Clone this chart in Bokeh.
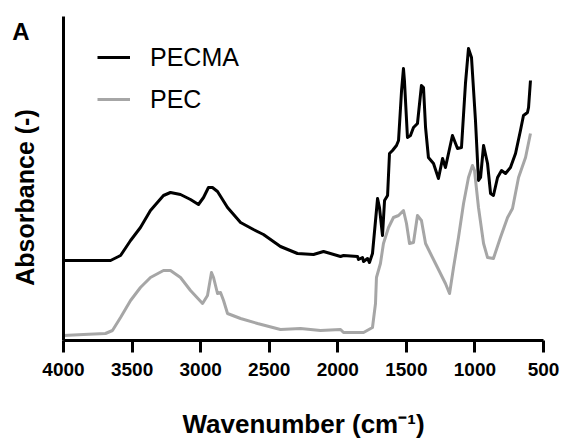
import math
from bokeh.plotting import figure
from bokeh.models import Range1d, FixedTicker, Legend, LegendItem, Label
from bokeh.embed import file_html
from bokeh.resources import INLINE

# ---- data ----
pecma_wn = [4000, 3657, 3584, 3511, 3439, 3366, 3271, 3220, 3147, 3074, 3016, 2979, 2943, 2914,
            2877, 2804, 2709, 2615, 2542, 2418, 2294, 2177, 2104, 1980, 1958, 1856, 1849, 1820,
            1812, 1783, 1769, 1747, 1710, 1696, 1674, 1659, 1637, 1623, 1601, 1572, 1557, 1535,
            1521, 1514, 1492, 1470, 1448, 1419, 1390, 1375, 1360, 1339, 1302, 1266, 1236, 1215,
            1164, 1127, 1098, 1069, 1047, 1025, 996, 974, 959, 937, 908, 886, 865, 835, 806,
            777, 741, 704, 668, 646, 617, 609, 595]
pecma_abs = [0.80, 0.80, 0.85, 1.00, 1.13, 1.30, 1.45, 1.48, 1.46, 1.41, 1.36, 1.43, 1.53, 1.53,
             1.49, 1.33, 1.18, 1.11, 1.06, 0.94, 0.87, 0.86, 0.89, 0.84, 0.85, 0.84, 0.81, 0.83,
             0.79, 0.82, 0.78, 0.87, 1.42, 1.33, 1.05, 1.40, 1.45, 1.87, 1.90, 1.95, 2.00, 2.50,
             2.72, 2.60, 2.03, 2.05, 2.13, 2.17, 2.55, 2.53, 2.13, 1.83, 1.77, 1.62, 1.82, 1.73,
             2.05, 1.92, 1.93, 2.57, 2.92, 2.83, 2.20, 1.60, 1.63, 1.95, 1.77, 1.47, 1.45, 1.63,
             1.70, 1.67, 1.73, 1.87, 2.10, 2.25, 2.28, 2.33, 2.60]

pec_wn = [4000, 3854, 3694, 3643, 3584, 3511, 3439, 3366, 3271, 3220, 3147, 3074, 2986, 2950,
          2921, 2906, 2877, 2855, 2833, 2804, 2709, 2585, 2418, 2272, 2126, 1980, 1958, 1812,
          1747, 1725, 1718, 1689, 1667, 1630, 1594, 1557, 1521, 1499, 1477, 1448, 1419, 1390,
          1360, 1324, 1273, 1215, 1185, 1156, 1120, 1083, 1047, 1018, 1003, 974, 937, 908, 865,
          814, 762, 726, 682, 631, 595]
pec_abs = [0.05, 0.06, 0.07, 0.10, 0.23, 0.40, 0.53, 0.63, 0.70, 0.70, 0.63, 0.50, 0.37, 0.45,
           0.68, 0.63, 0.47, 0.48, 0.40, 0.27, 0.22, 0.17, 0.11, 0.12, 0.10, 0.11, 0.08, 0.08,
           0.13, 0.37, 0.63, 0.77, 0.97, 1.13, 1.23, 1.25, 1.30, 1.17, 0.97, 0.98, 1.25, 1.20,
           0.97, 0.87, 0.73, 0.57, 0.47, 0.73, 1.03, 1.37, 1.63, 1.75, 1.70, 1.33, 0.97, 0.83,
           0.82, 1.03, 1.23, 1.32, 1.63, 1.83, 2.07]

x_ticks = [4000, 3500, 3000, 2500, 2000, 1500, 1000, 500]
series_names = ["PECMA", "PEC"]
series_colors = ["#000000", "#a6a6a6"]
x_title = "Wavenumber (cm\u207b\u00b9)"
y_title = "Absorbance (-)"
panel_letter = "A"

FONT = "Liberation Sans"

p = figure(width=561, height=443, output_backend="svg", toolbar_location=None,
           x_range=Range1d(4000, 500), y_range=Range1d(0, 3.24),
           min_border_left=63, min_border_right=18, min_border_top=16, min_border_bottom=103)
p.outline_line_color = None
p.grid.visible = False
p.background_fill_color = "white"
p.border_fill_color = "white"

r1 = p.line(pecma_wn, pecma_abs, line_color=series_colors[0], line_width=3, line_join="round")
r2 = p.line(pec_wn, pec_abs, line_color=series_colors[1], line_width=3, line_join="round")

# x axis
xa = p.xaxis[0]
xa.ticker = FixedTicker(ticks=x_ticks)
xa.axis_line_width = 3
xa.major_tick_line_width = 3
xa.major_tick_out = 12
xa.major_tick_in = 0
xa.minor_tick_line_color = None
xa.major_label_text_font = FONT
xa.major_label_text_font_style = "bold"
xa.major_label_text_font_size = "19px"
xa.major_label_text_color = "black"
xa.major_label_standoff = 10

# y axis (line only)
ya = p.yaxis[0]
ya.ticker = FixedTicker(ticks=[])
ya.axis_line_width = 3
ya.major_tick_line_color = None
ya.minor_tick_line_color = None
ya.major_label_text_font_size = "1px"

# titles placed in the side panels (not clipped to the frame)
p.add_layout(Label(x=4284, y=1.43, x_units="data", y_units="data", text=y_title,
                   angle=math.pi / 2, text_align="center", text_baseline="middle",
                   text_font=FONT, text_font_style="bold", text_font_size="25px",
                   text_color="black"), "left")
p.add_layout(Label(x=4310, y=3.095, x_units="data", y_units="data", text=panel_letter,
                   text_align="center", text_baseline="middle",
                   text_font=FONT, text_font_style="bold", text_font_size="24px",
                   text_color="black"), "left")
p.add_layout(Label(x=2250, y=-0.83, x_units="data", y_units="data", text=x_title,
                   text_align="center", text_baseline="middle",
                   text_font=FONT, text_font_style="bold", text_font_size="26px",
                   text_color="black"), "below")

legend = Legend(items=[LegendItem(label=series_names[0], renderers=[r1]),
                       LegendItem(label=series_names[1], renderers=[r2])],
                location=(34, 226), orientation="vertical")
legend.border_line_color = None
legend.background_fill_alpha = 0
legend.margin = 0
legend.padding = 0
legend.spacing = 12
legend.glyph_width = 33
legend.glyph_height = 30
legend.label_height = 30
legend.label_standoff = 20
legend.label_text_font = FONT
legend.label_text_font_size = "25px"
legend.label_text_color = "black"
legend.label_text_baseline = "middle"
p.add_layout(legend)

open("out.html", "w").write(file_html(p, INLINE))
